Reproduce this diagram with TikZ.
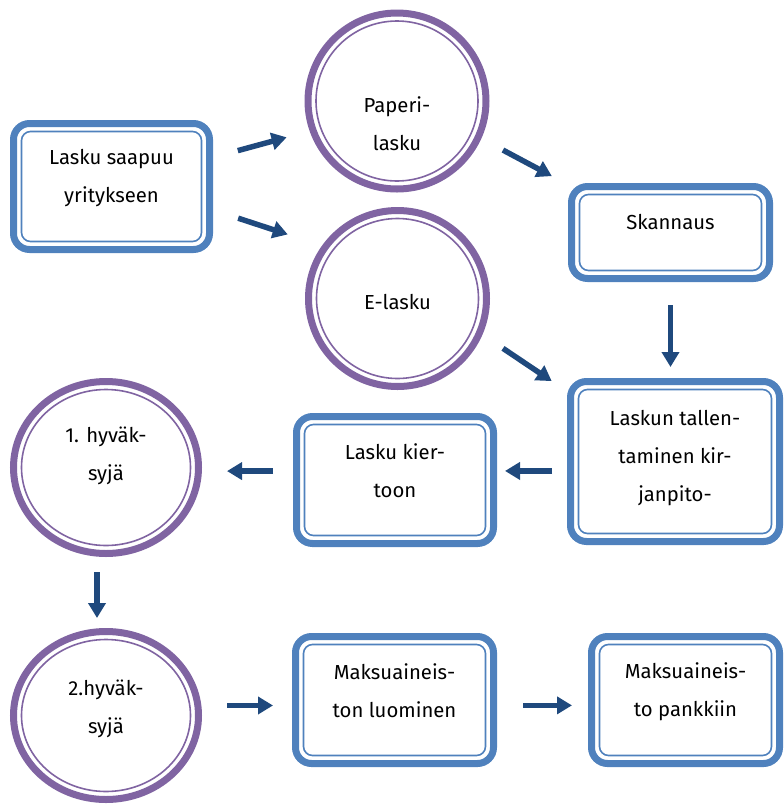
\documentclass[tikz,border=0pt]{standalone}
\usepackage{fontspec}
\setmainfont{Fira Sans}
\usetikzlibrary{arrows.meta,shapes.geometric}
\definecolor{sininen}{HTML}{4F81BD}
\definecolor{violetti}{HTML}{8064A2}
\definecolor{tumma}{HTML}{1F497D}
\tikzset{
  laatikko/.style 2 args={rectangle, draw=sininen, line width=7pt, rounded corners=16pt,
    fill=white, minimum width=#1, minimum height=#2, inner sep=0pt,
    path picture={\draw[sininen, line width=1.6pt, rounded corners=9pt]
      ([shift={(8pt,8pt)}]path picture bounding box.south west) rectangle
      ([shift={(-8pt,-8pt)}]path picture bounding box.north east);}},
  pallo/.style 2 args={ellipse, draw=violetti, line width=7pt, fill=white,
    minimum width=#1, minimum height=#2, inner sep=0pt,
    path picture={\draw[violetti, line width=1.6pt] (path picture bounding box.center)
      ellipse [x radius=#1/2-8pt, y radius=#2/2-8pt];}},
  teksti/.style={font=\fontsize{20.3}{38}\selectfont, align=center, inner sep=0pt},
  nuoli/.style={draw=tumma, line width=5.5pt, -{Triangle[length=15pt,width=17pt]}}
}
\begin{document}
\begin{tikzpicture}[x=1pt,y=-1pt]
    \useasboundingbox (0,0) rectangle (784,804);
    % laatikot ja pallot
    \node[laatikko={196pt}{126pt}] (tulo) at (111.5,186.5) {};
    \node[pallo={178pt}{176pt}] (paperi) at (397,101) {};
    \node[pallo={178pt}{176pt}] (elasku) at (397.5,298.5) {};
    \node[laatikko={198pt}{92pt}] (skannaus) at (670.5,232.5) {};
    \node[laatikko={209pt}{160pt}] (tallennus) at (675,461.5) {};
    \node[laatikko={197pt}{127pt}] (kierto) at (395,480) {};
    \node[pallo={185pt}{172pt}] (hyv1) at (106,467.5) {};
    \node[pallo={185pt}{168pt}] (hyv2) at (106,715.5) {};
    \node[laatikko={198pt}{127pt}] (luonti) at (394.5,700) {};
    \node[laatikko={188pt}{127pt}] (pankki) at (685.5,700) {};
    % tekstit
    \node[teksti] (tulo-t) at ([yshift=8.5pt]tulo.center) {Lasku saapuu\\yritykseen};
    \node[teksti] (paperi-t) at ([yshift=-22.5pt]paperi.center) {Paperi-\\lasku};
    \node[teksti] (elasku-t) at ([yshift=-3.5pt]elasku.center) {E-lasku};
    \node[teksti] (skannaus-t) at ([yshift=10.5pt]skannaus.center) {Skannaus};
    \node[teksti] (tallennus-t) at ([yshift=3pt]tallennus.center) {Laskun tallen-\\taminen kir-\\janpito-};
    \node[teksti] (kierto-t) at ([yshift=9pt]kierto.center) {Lasku kier-\\toon};
    \node[teksti] (hyv1-t) at ([yshift=12pt]hyv1.center) {1. hyväk-\\syjä};
    \node[teksti] (hyv2-t) at ([yshift=7pt]hyv2.center) {2.hyväk-\\syjä};
    \node[teksti] (luonti-t) at ([yshift=9pt]luonti.center) {Maksuaineis-\\ton luominen};
    \node[teksti] (pankki-t) at ([yshift=8.5pt]pankki.center) {Maksuaineis-\\to pankkiin};
    % vinot nuolet
    \foreach \a/\b/\s/\e in {tulo.16.7/paperi.199.8/25.7/23.8, tulo.347.3/elasku.145.9/26.5/36,
        paperi.336.3/skannaus.155.5/24.5/18.3, elasku.337.7/tallennus.147.9/24.7/18.4}
    \draw[nuoli, shorten <=\s pt, shorten >=\e pt] (\a) -- (\b);
    % suorat nuolet
    \foreach \a/\b/\s/\e in {tallennus.185/kierto.east/15/8, kierto.175.5/hyv1.east/20/25,
        hyv2.6.3/luonti.west/25.7/19, luonti.357.2/pankki.west/26/16}
    \draw[nuoli, shorten <=\s pt, shorten >=\e pt] (\a) -- (\a -| \b);
    \draw[nuoli, shorten <=23pt, shorten >=11pt] (skannaus.south) -- (skannaus.south |- tallennus.north);
    \draw[nuoli, shorten <=15pt, shorten >=10pt] ([xshift=-9pt]hyv1.south) -- ([xshift=-9pt]hyv1.south |- hyv2.north);
\end{tikzpicture}
\end{document}
